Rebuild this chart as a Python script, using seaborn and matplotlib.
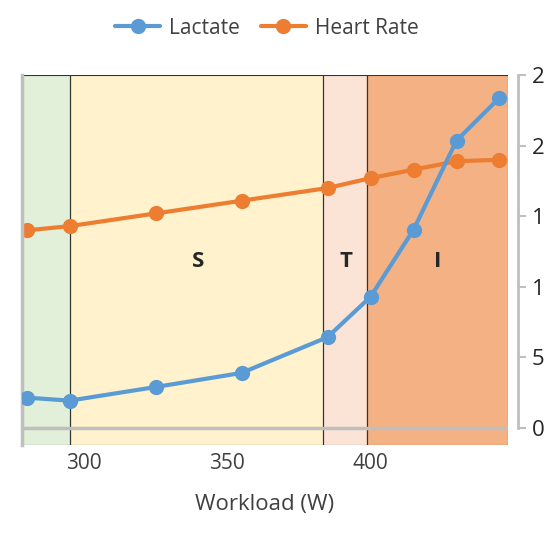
import matplotlib
matplotlib.use("Agg")
import matplotlib.pyplot as plt
import seaborn as sns
import pandas as pd

workload = [280, 295, 325, 355, 385, 400, 415, 430, 445]
lactate = [0.6, 0.54, 0.81, 1.09, 1.8, 2.6, 3.93, 5.7, 6.55]
heart_rate = [140, 143, 152, 161, 170, 177, 183, 189, 190]
zones = [(278.3, 295, "#e2efd9", ""), (295, 383.5, "#fff2cc", "S"),
         (383.5, 398.8, "#fbe4d5", "T"), (398.8, 448, "#f4b183", "I")]
zone_label_x = [0, 339.8, 391.4, 423.5]
left_ticks = [0, 1, 2, 3, 4, 5, 6, 7]
right_ticks = [0, 50, 100, 150, 200, 250]

blue = "#5b9bd5"
orange = "#ed7d31"
sns.set_style("white")
plt.rcParams['font.family'] = ['Open Sans', 'DejaVu Sans']

fig = plt.figure(figsize=(5.44, 5.44), dpi=100)
ax = fig.add_axes([0.040, 0.182, 0.894, 0.680])
ax2 = ax.twinx()
ax.set_zorder(ax2.get_zorder() + 1)
ax.patch.set_visible(False)

for x0, x1, c, lab in zones:
    ax2.axvspan(x0, x1, color=c, zorder=0)
    ax2.axvspan(x0, x1, facecolor="none", edgecolor="#333333", lw=0.8, zorder=1)
ax.axhline(0, color="#bfbfbf", lw=2.5, zorder=2)

df = pd.DataFrame({"w": workload, "lac": lactate, "hr": heart_rate})
sns.lineplot(data=df, x="w", y="lac", ax=ax, color=blue, marker="o", markersize=11,
             markeredgewidth=0, lw=3, label="Lactate", zorder=5, legend=False)
sns.lineplot(data=df, x="w", y="hr", ax=ax2, color=orange, marker="o", markersize=11,
             markeredgewidth=0, lw=3, label="Heart Rate", zorder=4, legend=False)

ax.set_xlim(278.3, 448)
ax.set_ylim(-0.34, 7)
ax2.set_ylim(-12, 250)
for x, (_, _, _, lab) in zip(zone_label_x, zones):
    if lab:
        ax.text(x, 3.3, lab, fontsize=16, fontweight="bold", ha="center", va="center")

ax.set_xticks([300, 350, 400])
ax.set_xticklabels(["300", "350", "400"], color="#404040")
ax.set_xlabel("Workload (W)", fontsize=16, color="#404040", labelpad=14)
ax.set_ylabel("")
ax2.set_ylabel("")
ax.set_yticks(left_ticks)
ax.set_yticklabels([str(t) for t in left_ticks], color=blue)
ax.tick_params(axis="y", length=0, pad=16, labelsize=16)
ax.tick_params(axis="x", length=0, pad=6, labelsize=15)
ax2.set_yticks(right_ticks)
ax2.set_yticklabels([str(t) for t in right_ticks], color="#404040")
ax2.tick_params(axis="y", length=6, color="#bfbfbf", width=1.5, pad=4, labelsize=16)

for a in (ax, ax2):
    for s in a.spines.values():
        s.set_visible(False)
ax2.spines["right"].set_visible(True)
ax2.spines["right"].set_color("#bfbfbf")
ax2.spines["right"].set_linewidth(2)
ax2.spines["right"].set_position(("outward", 7))
ax2.spines["right"].set_bounds(0, 250)
ax.spines["left"].set_visible(True)
ax.spines["left"].set_color("#bfbfbf")
ax.spines["left"].set_linewidth(2.5)

h1, l1 = ax.get_legend_handles_labels()
h2, l2 = ax2.get_legend_handles_labels()
fig.legend(h1 + h2, l1 + l2, loc="center", bbox_to_anchor=(0.49, 0.948), ncol=2,
           frameon=False, fontsize=15, handlelength=2.2, columnspacing=1.0,
           handletextpad=0.4, labelcolor="#404040")

fig.savefig("out.png", dpi=100)
